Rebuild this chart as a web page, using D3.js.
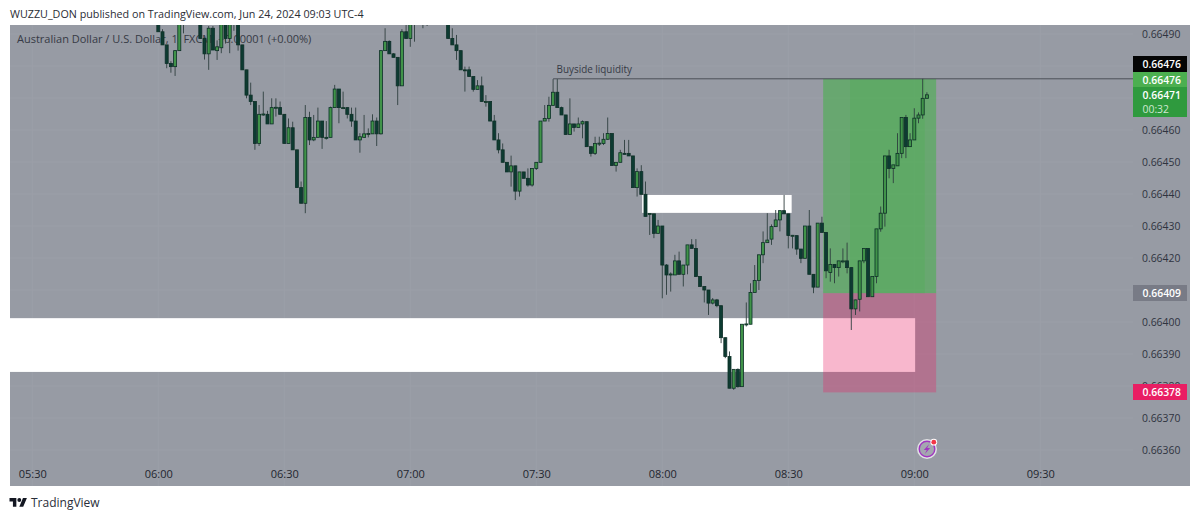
<!DOCTYPE html>
<html><head><meta charset="utf-8">
<script src="https://cdn.jsdelivr.net/npm/d3@7/dist/d3.min.js"></script>
<style>html,body{margin:0;padding:0;background:#fff;overflow:hidden}svg{display:block}text{font-family:"Open Sans","Noto Sans",sans-serif}</style>
</head><body><svg id="c" width="1200" height="519"></svg>
<script>
// Prices are in units of 0.00001; one candle per minute starting at 06:00.
const startMinute = 360;
const opens = [66493.5,66490.7,66486.6,66480.8,66479.8,66484.8,66494,66496,66498,66497,
66493.5,66488.6,66483.8,66491.8,66484.8,66485.7,66494,66488.6,66494,66493,
66486.6,66478.8,66470.9,66468.9,66455.8,66464.9,66464.9,66461.9,66467,66467,
66464.9,66455.8,66460.7,66453.8,66442,66437.1,66463.9,66456.9,66457.7,66462.8,
66457.7,66457.7,66467,66472.8,66467,66467,66464.9,66462.8,66456.9,66457.7,
66458.8,66458.8,66462.8,66458.8,66484.8,66487.7,66483.8,66482.7,66473.8,66490.7,
66488.6,66493.5,66495,66497,66496,66495,66497,66498,66496,66494,
66488.6,66486.6,66484.8,66478.8,66478.8,66476.7,66472.7,66473.8,66468.9,66468.9,
66462.8,66456.9,66453.8,66449.9,66446.9,66448.8,66440.9,66446.9,66444.9,66442.8,
66448,66449.9,66462.8,66463.6,66467.7,66471.8,66467,66464.7,66458.6,66461.9,
66460.8,66461.9,66462.6,66454.8,66452.7,66455.8,66455.8,66457.1,66458.9,66448.9,
66449.9,66452.7,66452.7,66451.9,66442,66447,66439.9,66433.8,66433.8,66427.7,
66430,66417.8,66414.9,66414.7,66419.1,66414.9,66417.8,66424.1,66423,66414.2,
66411.1,66410,66405.9,66406.9,66405.1,66395.1,66389.2,66379.3,66385.2,66379.8,
66399.3,66399.3,66409.2,66413,66421,66424.8,66425.9,66429.8,66431.9,66434.8,
66433.8,66427,66427,66422.8,66419.9,66430,66414.9,66410.9,66430.9,66428,
66415.5,66418,66417,66419.1,66419.1,66417,66404.1,66407.1,66419.1,66423,
66407.9,66414.2,66429.1,66434,66451.9,66448,66448.8,66452.7,66463.9,66454.8,
66456.9,66463.7,66464.7,66469.9];
const highs = [66495,66491.5,66486.6,66481.5,66485,66495,66497,66499,66500,66498,
66495,66489,66492.5,66492.5,66488,66495,66495,66495,66495,66495,
66486.6,66478.8,66474.8,66468.9,66467.8,66472,66466,66469.9,66469.9,66468.9,
66464.9,66463.6,66462.6,66453.8,66443.9,66467.8,66465.7,66464.7,66467,66462.8,
66462.8,66467.3,66474.1,66472.8,66472,66467,66467,66467,66459,66464.7,
66460.5,66464.9,66463.9,66484.8,66491.8,66488,66484,66482.7,66491.5,66492.8,
66495,66496,66498,66498,66497,66498,66499,66499,66497,66496,
66491.8,66489.7,66484.8,66479.8,66479.8,66476.7,66475.6,66476.7,66470.9,66468.9,
66464.7,66459,66455.8,66449.9,66452,66448.8,66446.9,66446.9,66448,66448,
66449.9,66462.8,66467.8,66470.4,66475.9,66475.9,66467.3,66464.7,66469.9,66461.9,
66463.9,66463,66462.6,66454.8,66457.9,66457.9,66459,66463.9,66458.9,66449.9,
66453.8,66456.9,66456.9,66451.9,66448,66449,66443.9,66434,66433.8,66431.9,
66430,66418.1,66415.5,66421,66422,66417.8,66424.1,66425.9,66425.9,66414.2,
66411.1,66410,66407.5,66407.2,66405.1,66395.1,66390.8,66385.2,66385.5,66399.3,
66406.1,66412.1,66417.8,66421,66428.3,66434,66430.5,66435,66434.8,66439.7,
66433.8,66427.2,66427,66422.8,66430,66435,66414.9,66430.9,66432.9,66428,
66423,66418,66419.1,66423,66424.8,66417,66407,66419.1,66423,66423,
66414.2,66429.1,66436.1,66451.9,66453.8,66449.1,66459,66463.9,66464.7,66459,
66466.8,66465.5,66476,66471.8];
const lows = [66490.7,66486.6,66479.3,66477.9,66476.9,66484.8,66490.2,66494.5,66495,66493.5,
66488.6,66482,66478.8,66485,66481.9,66484,66487,66484,66491,66484.8,
66478.8,66469.9,66467.8,66453.8,66455,66464.4,66461.9,66461.9,66464.2,66464.9,
66455.8,66455.8,66453.8,66442,66437.1,66434,66455.3,66456.5,66457.7,66454.1,
66457,66457.7,66467,66462.1,66466.5,66463.6,66461,66456.9,66452.9,66457.7,
66457.7,66458.8,66455,66458.6,66484.8,66483.8,66482.7,66467.8,66473.8,66488.6,
66486,66487.6,66494,66491.8,66492.5,66494,66496,66495,66493.5,66488.6,
66486.6,66481.9,66478.8,66472,66476.7,66472,66472.7,66468.9,66467.3,66462.8,
66456.9,66452.7,66449.9,66446.9,66442.3,66438.1,66439.2,66444.9,66442.3,66442.3,
66447.5,66449.9,66462.8,66462.6,66467.7,66467,66464.7,66458.6,66458.6,66459.5,
66460.8,66457.4,66454.8,66451.7,66452.2,66455,66455.3,66456.9,66448.9,66447,
66449.9,66452.4,66451.9,66442,66439.2,66439.9,66433,66427.2,66426.2,66427.7,
66407.4,66408.5,66409.5,66414.7,66414.9,66411.1,66414.9,66423,66414.2,66411.1,
66406.1,66402.2,66405.5,66404.6,66393.4,66388.7,66379.3,66378.8,66379.5,66379.8,
66398.6,66399.3,66409.2,66410,66418.4,66424.8,66424.1,66429.8,66428.3,66433.8,
66423,66423,66421,66418.4,66419.9,66414.9,66409,66410.9,66428,66413.7,
66412.6,66412.1,66414.2,66418.4,66415.2,66397.5,66402.2,66403.3,66418.4,66407.9,
66407.9,66412.1,66428.2,66429.8,66444.9,66443.4,66448.8,66451.2,66451.2,66454.8,
66456.9,66462.1,66463.5,66469.9];
const closes = [66490.7,66486.6,66480.8,66479.8,66484.8,66494,66496,66498,66497,66493.5,
66488.6,66483.8,66491.8,66485,66486,66494,66488.6,66494,66493,66486.6,
66478.8,66470.9,66468.9,66455.8,66464.9,66465,66461.9,66467,66467.1,66464.9,
66455.8,66460.7,66453.8,66442,66437.1,66463.9,66456.9,66457.7,66462.8,66457.7,
66457.7,66467,66472.8,66467,66467,66464.9,66462.8,66456.9,66457.9,66458.8,
66458.9,66462.8,66458.8,66484.8,66487.7,66483.8,66482.7,66473.8,66490.7,66488.6,
66493.5,66495,66497,66496,66495,66497,66498,66496,66494,66488.6,
66486.6,66484.8,66478.8,66478.7,66476.7,66472.7,66473.8,66468.9,66468.9,66462.8,
66456.9,66453.8,66449.9,66446.9,66448.8,66440.9,66446.9,66444.9,66442.8,66448,
66449.9,66462.8,66463.6,66467.7,66471.8,66467,66464.7,66458.6,66461.9,66460.8,
66461.9,66462.6,66454.8,66452.7,66455.8,66455.9,66457.1,66458.9,66448.9,66449.9,
66452.9,66452.6,66451.9,66442,66447,66439.9,66433,66433.9,66427.7,66430,
66417.8,66414.7,66415,66419.1,66414.9,66417.8,66424.1,66423,66414.2,66411.1,
66410,66405.9,66406.9,66405.1,66395.1,66389.2,66379.3,66385.2,66379.8,66399.3,
66399.4,66409.2,66413,66421,66424.8,66425.6,66429.8,66431.9,66434.8,66433.8,
66427,66427.1,66422.8,66419.9,66430,66414.9,66410.9,66430.9,66428,66416,
66418,66417,66419.1,66419.1,66417,66404.1,66406.9,66419.1,66423,66407.9,
66414.2,66429.1,66434,66451.9,66448,66449.1,66452.7,66463.9,66454.8,66456.9,
66463.7,66464.7,66469.9,66471];
const gridPrices = [66490,66480,66470,66460,66450,66440,66430,66420,66410,66400,66390,66380,66370,66360];
const priceTicks = [66490,66460,66450,66440,66430,66420,66400,66390,66380,66370,66360];
const timeTicks = [330,360,390,420,450,480,510,540,570];
const timeLabels = ["05:30","06:00","06:30","07:00","07:30","08:00","08:30","09:00","09:30"];
const title = "WUZZU_DON published on TradingView.com, Jun 24, 2024 09:03 UTC-4";
const legendText = "Australian Dollar / U.S. Dollar, 1, FXCM  +0.00001 (+0.00%)";
const annotation = "Buyside liquidity";
const liquidityPrice = 66476, liquidityStart = 454;
const tpPrice = 66476, entryPrice = 66409, slPrice = 66378;
const posStart = 518.3, posEnd = 545.2;
const whiteZones = [{t0:327,t1:540.2,top:66401.2,bot:66384.4},{t0:475.2,t1:510.8,top:66439.7,bot:66434.1}];

const W=1200,H=519,panel={l:10,t:25,r:1190,b:486},axisX=1133;
const x=d3.scaleLinear().domain([330,570]).range([32.3,1040.3]);
const y=d3.scaleLinear().domain([66360,66490]).range([450,34]);
const svg=d3.select("#c");
const defs=svg.append("defs");
defs.append("clipPath").attr("id","pane").append("rect").attr("x",panel.l).attr("y",panel.t).attr("width",axisX-panel.l).attr("height",panel.b-panel.t);
defs.append("filter").attr("id","soft").attr("x","-5%").attr("y","-5%").attr("width","110%").attr("height","110%").append("feGaussianBlur").attr("stdDeviation",0.3);

svg.append("rect").attr("x",panel.l).attr("y",panel.t).attr("width",panel.r-panel.l).attr("height",panel.b-panel.t).attr("fill","#979ba4");
svg.append("text").attr("x",10).attr("y",18).attr("font-size",10.75).attr("fill","#2a2d35").text(title);

// grid
const grid=svg.append("g").attr("stroke","#9b9fa8").attr("stroke-width",1);
grid.selectAll("line.h").data(gridPrices).join("line").attr("x1",panel.l).attr("x2",axisX).attr("y1",d=>y(d)).attr("y2",d=>y(d));
grid.selectAll("line.v").data(timeTicks).join("line").attr("y1",panel.t).attr("y2",panel.b).attr("x1",d=>x(d)).attr("x2",d=>x(d));

// legend
svg.append("text").attr("x",17).attr("y",43).attr("font-size",11).attr("fill","#363a45").attr("xml:space","preserve").text(legendText);

const pane=svg.append("g").attr("clip-path","url(#pane)");
// white zones
pane.selectAll("rect.z").data(whiteZones).join("rect").attr("x",d=>d.t0<330?panel.l:x(d.t0)).attr("width",d=>x(d.t1)-(d.t0<330?panel.l:x(d.t0))).attr("y",d=>y(d.top)).attr("height",d=>y(d.bot)-y(d.top)).attr("fill","#fff");

// position tool
const px0=x(posStart),px1=x(posEnd);
pane.append("rect").attr("x",px0).attr("width",px1-px0).attr("y",y(tpPrice)).attr("height",y(entryPrice)-y(tpPrice)).attr("fill","#4caf50").attr("fill-opacity",0.62);
pane.append("rect").attr("x",x(posStart+6.4)).attr("width",x(posEnd-2.7)-x(posStart+6.4)).attr("y",y(tpPrice)).attr("height",y(entryPrice)-y(tpPrice)).attr("fill","#4caf50").attr("fill-opacity",0.3);
pane.append("rect").attr("x",px0).attr("width",px1-px0).attr("y",y(entryPrice)).attr("height",y(slPrice)-y(entryPrice)).attr("fill","#e91e63").attr("fill-opacity",0.32);

// liquidity line
pane.append("line").attr("x1",x(liquidityStart)).attr("x2",axisX).attr("y1",y(liquidityPrice)).attr("y2",y(liquidityPrice)).attr("stroke","#4c5058").attr("stroke-width",1);
svg.append("text").attr("x",x(liquidityStart)+3.5).attr("y",y(liquidityPrice)-6).attr("font-size",9.9).attr("fill","#363a45").text(annotation);

// candles
const candles=opens.map((o,i)=>({m:startMinute+i,o,h:highs[i],l:lows[i],c:closes[i]}));
const cg=pane.append("g").attr("filter","url(#soft)").selectAll("g").data(candles).join("g");
cg.append("line").attr("x1",d=>x(d.m)).attr("x2",d=>x(d.m)).attr("y1",d=>y(d.h)).attr("y2",d=>y(d.l)).attr("stroke","#2f3e3e").attr("stroke-width",0.9);
cg.append("rect").attr("x",d=>x(d.m)-1.5).attr("width",3)
  .attr("y",d=>y(Math.max(d.o,d.c))).attr("height",d=>Math.max(1,Math.abs(y(d.o)-y(d.c))))
  .attr("fill",d=>d.c>=d.o?"#3f9348":"#0d3b30").attr("stroke","#0f3028").attr("stroke-width",0.8);

// axes
const xAxis=d3.axisBottom(x).tickValues(timeTicks).tickSize(0).tickFormat((d,i)=>timeLabels[i]);
const gx=svg.append("g").attr("transform","translate(0,467)").call(xAxis);
gx.select(".domain").remove();
gx.selectAll("text").attr("font-size",11).attr("fill","#23262f").attr("font-family",'"Open Sans",sans-serif');
const yAxis=d3.axisRight(y).tickValues(priceTicks).tickSize(0).tickPadding(0).tickFormat(d=>(d/1e5).toFixed(5));
const gy=svg.append("g").attr("transform","translate(1142,0)").call(yAxis);
gy.select(".domain").remove();
gy.selectAll("text").attr("font-size",10.4).attr("fill","#2f3340").attr("font-family",'"Open Sans",sans-serif');

// price badges
const badges=[
 {p:66476,top:56,h:16,fill:"#050505",col:"#fff",lines:["0.66476"]},
 {p:66476,top:72,h:15,fill:"#4caf50",col:"#fff",lines:["0.66476"]},
 {p:66471,top:87,h:30,fill:"#2f9a3e",col:"#fff",lines:["0.66471","00:32"]},
 {p:66409,top:285,h:16,fill:"#787b86",col:"#fff",lines:["0.66409"]},
 {p:66378,top:384,h:16,fill:"#e91e63",col:"#fff",lines:["0.66378"]}];
const bg=svg.append("g").selectAll("g").data(badges).join("g");
bg.append("rect").attr("x",axisX).attr("width",54).attr("y",d=>d.top).attr("height",d=>d.h).attr("fill",d=>d.fill);
bg.each(function(d){
  const g=d3.select(this);
  d.lines.forEach((t,j)=>g.append("text").attr("x",1142.5).attr("y",d.top+11.8+j*14)
    .attr("font-size",10.4).attr("font-weight",j?400:600).attr("fill",j?"#cfe8d2":d.col).text(t));
});

// lightning badge
const icon=svg.append("g").attr("transform","translate(927,449)");
icon.append("circle").attr("r",10).attr("fill","#fff").attr("fill-opacity",0.7);
icon.append("circle").attr("r",7.8).attr("fill","#a4a6b0").attr("stroke","#a035c0").attr("stroke-width",1.4);
icon.append("path").attr("d",d3.line()([[2.2,-5],[-3.2,1],[-0.2,1],[-2.2,5],[3.2,-1],[0.2,-1]])+"Z").attr("fill","#a035c0");
icon.append("circle").attr("cx",6.8).attr("cy",-6.8).attr("r",3.4).attr("fill","#fff");
icon.append("circle").attr("cx",6.8).attr("cy",-6.8).attr("r",2.4).attr("fill","#f23645");

// logo
const logo=svg.append("g").attr("transform","translate(9.5,496) scale(0.49)").attr("fill","#131722");
logo.append("path").attr("d","M14 22H7V11H0V4h14v18zM28 22h-8l7.5-18h8L28 22z");
logo.append("circle").attr("cx",20).attr("cy",8).attr("r",4);
svg.append("text").attr("x",31).attr("y",507).attr("font-size",12).attr("fill","#2a2e39").text("TradingView");
</script></body></html>
